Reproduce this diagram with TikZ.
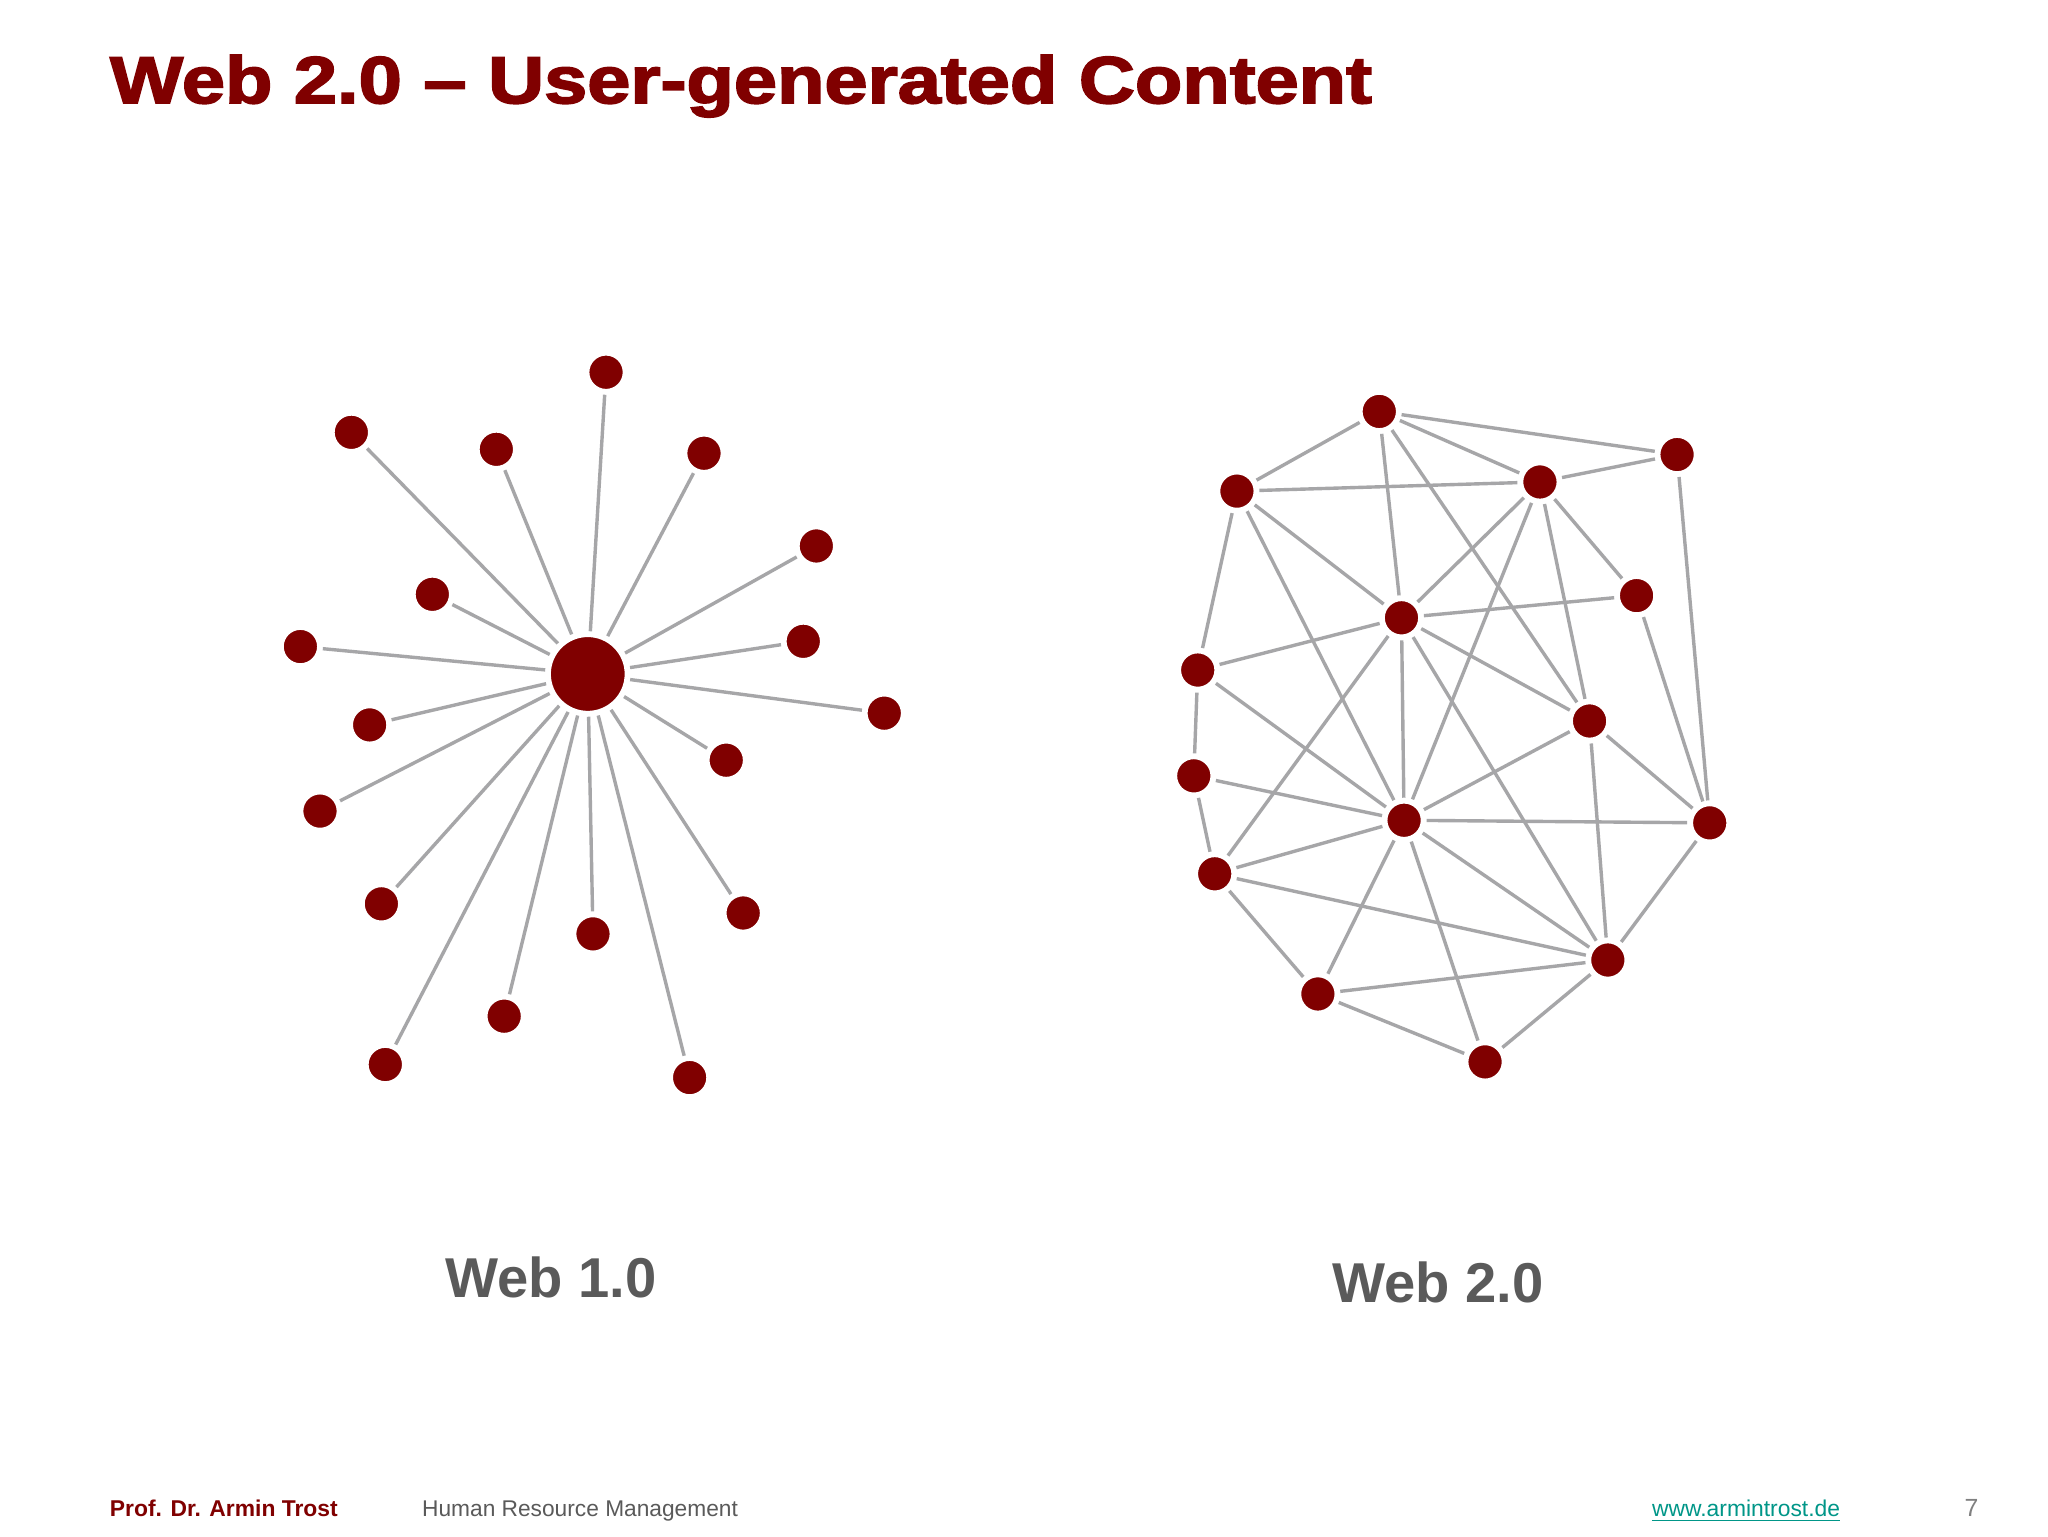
\documentclass[tikz,border=0pt]{standalone}
\usepackage{fontspec}
\setmainfont{Liberation Sans}
\begin{document}
\begin{tikzpicture}[x=1pt,y=-1pt,
  leaf/.style={circle,fill={rgb,255:red,128;green,0;blue,0},draw=white,line width=1.5pt,minimum size=27pt,inner sep=0pt},
  hub/.style={leaf,minimum size=58pt},
  edge/.style={draw={rgb,255:red,166;green,166;blue,168},line width=2.6pt,shorten <=3pt,shorten >=3pt}]
\definecolor{dred}{RGB}{128,0,0}
\definecolor{tgray}{RGB}{90,90,90}
\definecolor{teal2}{RGB}{0,150,136}
\useasboundingbox[fill=white] (0,0) rectangle (1568,1176);
\node[anchor=base west,inner sep=0pt,text=dred,xscale=1.165,font=\fontsize{51}{51}\selectfont\bfseries] (title) at (84,79) {\special{pdf:literal 2 Tr 1.2 w}Web 2.0 – User-generated Content\special{pdf:literal 0 Tr}};
% Web 1.0
\node[hub] (h) at (450,516) {};
\foreach \x/\y [count=\i] in {464/285,269/331,380/344,539/347,625/418,331/455,230/495,615/491,283/555,677/546,556/582,245/621,292/692,569/699,454/715,386/778,295/815,528/825}{
  \node[leaf] (l\i) at (\x,\y) {};
  \draw[edge] (h) -- (l\i);
}
% Web 2.0
\foreach \n/\x/\y in {A/1056/315,B/1284/348,C/1179/369,D/947/376,E/1253/456,F/1073/473,G/917/513,H/1217/552,I/914/594,J/1075/628,K/1309/630,L/930/669,M/1231/735,N/1009/761,O/1137/813}
  \node[leaf] (\n) at (\x,\y) {};
\foreach \a/\b in {A/B,A/C,A/D,A/F,A/H,D/C,C/B,C/E,C/F,C/H,C/J,B/K,D/G,D/F,D/J,F/E,F/G,F/H,F/J,F/L,F/M,E/K,G/I,G/J,H/J,H/K,H/M,I/J,I/L,J/K,J/L,J/N,J/O,J/M,L/M,L/N,M/N,M/O,M/K,N/O}
  \draw[edge] (\a) -- (\b);
\node[text=tgray,font=\fontsize{43}{43}\selectfont\bfseries] (w1) at (422,978) {Web 1.0};
\node[text=tgray,font=\fontsize{43}{43}\selectfont\bfseries] (w2) at (1101,982) {Web 2.0};
% footer
\node[anchor=base west,inner sep=0pt,text=dred,font=\fontsize{17.5}{17.5}\selectfont\bfseries] (f1) at (84,1161) {Prof. Dr. Armin Trost};
\node[anchor=base west,inner sep=0pt,text=tgray,font=\fontsize{17.4}{17.4}\selectfont] (f2) at (323,1161) {Human Resource Management};
\node[anchor=base east,text=teal2,font=\fontsize{17.5}{17.5}\selectfont,inner sep=0pt] (f3) at (1409,1161) {www.armintrost.de};
\draw[teal2,line width=1pt] ([yshift=-3pt]f3.base west) -- ([yshift=-3pt]f3.base east);
\node[anchor=base east,inner sep=0pt,text=gray,font=\fontsize{19}{19}\selectfont] (f4) at (1515,1161) {7};
\end{tikzpicture}
\end{document}
